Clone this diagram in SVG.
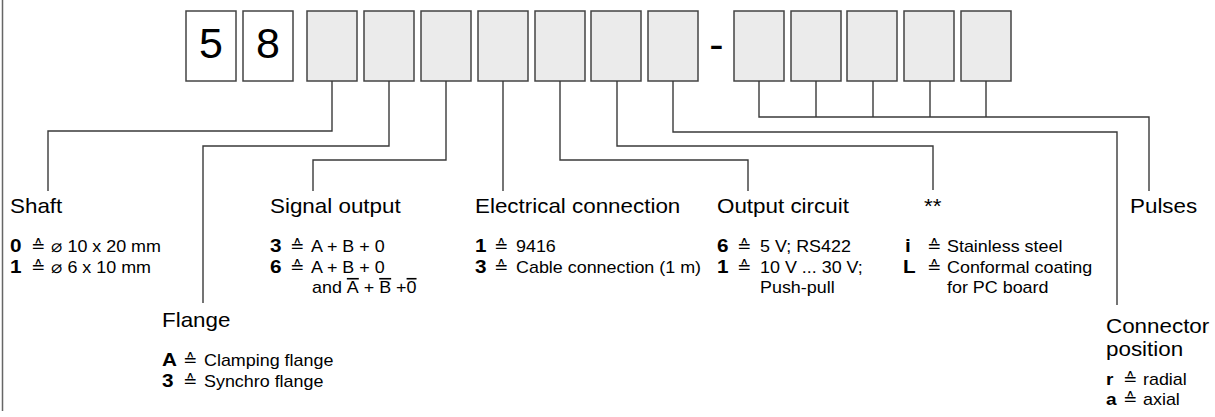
<svg xmlns="http://www.w3.org/2000/svg" width="1215" height="417" viewBox="0 0 1215 417">
<style>
.box{fill:#ebebeb;stroke:#444;stroke-width:1.5}
.wbox{fill:#fff;stroke:#444;stroke-width:1.5}
.big{font-family:"Liberation Sans",Arial,sans-serif;font-size:43px;fill:#000;text-anchor:middle}
.ln{fill:none;stroke:#3a3a3a;stroke-width:1.4}
.t{font-family:"Liberation Sans",Arial,sans-serif;font-size:20px;fill:#000}
.k{font-family:"Liberation Sans",Arial,sans-serif;font-size:18.5px;font-weight:bold;fill:#000}
.v{font-family:"Liberation Sans",Arial,sans-serif;font-size:16px;fill:#000}
.eq{font-family:"DejaVu Sans",sans-serif;font-size:17px;fill:#000}
.d{font-family:"DejaVu Sans",sans-serif;font-size:17px}
</style>
<line x1="2.5" y1="0" x2="2.5" y2="411" stroke="#666" stroke-width="1.5"/>
<g id="code">
<rect class="wbox" x="186" y="11" width="50" height="70"/>
<text class="big" x="211" y="58">5</text>
<rect class="wbox" x="243" y="11" width="50" height="70"/>
<text class="big" x="268" y="58">8</text>
<rect class="box" x="307" y="11" width="50" height="70"/>
<rect class="box" x="364" y="11" width="50" height="70"/>
<rect class="box" x="421" y="11" width="50" height="70"/>
<rect class="box" x="478" y="11" width="50" height="70"/>
<rect class="box" x="535" y="11" width="50" height="70"/>
<rect class="box" x="591" y="11" width="50" height="70"/>
<rect class="box" x="648" y="11" width="50" height="70"/>
<text class="big" x="716.5" y="59">-</text>
<rect class="box" x="734" y="11" width="50" height="70"/>
<rect class="box" x="791" y="11" width="50" height="70"/>
<rect class="box" x="847" y="11" width="50" height="70"/>
<rect class="box" x="904" y="11" width="50" height="70"/>
<rect class="box" x="961" y="11" width="50" height="70"/>
</g>
<g id="connectors">
<path class="ln" d="M332 81V131H48V191"/>
<path class="ln" d="M389 81V146H203V303"/>
<path class="ln" d="M446 81V160H313V191"/>
<path class="ln" d="M503 81V191"/>
<path class="ln" d="M560 81V160H748V191"/>
<path class="ln" d="M617 81V146H933V190"/>
<path class="ln" d="M673 81V132H1117V305"/>
<path class="ln" d="M759 81V117H1149V191M816 81V117M873 81V117M930 81V117M986 81V117"/>
</g>
<g id="shaft">
<text class="t" transform="translate(10 213) scale(1.12 1)">Shaft</text>
<text class="k" transform="translate(10 252) scale(1.12 1)">0</text>
<text class="eq" x="31" y="252">≙</text>
<text class="v" transform="translate(51 252) scale(1.12 1)"><tspan class="d">⌀</tspan> 10 x 20 mm</text>
<text class="k" transform="translate(10 273) scale(1.12 1)">1</text>
<text class="eq" x="31" y="273">≙</text>
<text class="v" transform="translate(51 273) scale(1.12 1)"><tspan class="d">⌀</tspan> 6 x 10 mm</text>
</g>
<g id="flange">
<text class="t" transform="translate(162 327) scale(1.12 1)">Flange</text>
<text class="k" transform="translate(162 366) scale(1.12 1)">A</text>
<text class="eq" x="183" y="366">≙</text>
<text class="v" transform="translate(204 366) scale(1.12 1)">Clamping flange</text>
<text class="k" transform="translate(162 387) scale(1.12 1)">3</text>
<text class="eq" x="183" y="387">≙</text>
<text class="v" transform="translate(204 387) scale(1.12 1)">Synchro flange</text>
</g>
<g id="signal">
<text class="t" transform="translate(270 213) scale(1.12 1)">Signal output</text>
<text class="k" transform="translate(270 252) scale(1.12 1)">3</text>
<text class="eq" x="290" y="252">≙</text>
<text class="v" transform="translate(311 252) scale(1.12 1)">A + B + 0</text>
<text class="k" transform="translate(270 273) scale(1.12 1)">6</text>
<text class="eq" x="290" y="273">≙</text>
<text class="v" transform="translate(311 273) scale(1.12 1)">A + B + 0</text>
<text class="v" transform="translate(312 293) scale(1.12 1)">and <tspan text-decoration="overline">A</tspan> + <tspan text-decoration="overline">B</tspan> +<tspan text-decoration="overline">0</tspan></text>
</g>
<g id="electrical">
<text class="t" transform="translate(475 213) scale(1.12 1)">Electrical  connection</text>
<text class="k" transform="translate(475 252) scale(1.12 1)">1</text>
<text class="eq" x="494" y="252">≙</text>
<text class="v" transform="translate(516 252) scale(1.12 1)">9416</text>
<text class="k" transform="translate(475 273) scale(1.12 1)">3</text>
<text class="eq" x="494" y="273">≙</text>
<text class="v" transform="translate(516 273) scale(1.12 1)">Cable connection (1 m)</text>
</g>
<g id="output">
<text class="t" transform="translate(717 213) scale(1.12 1)">Output circuit</text>
<text class="k" transform="translate(717 252) scale(1.12 1)">6</text>
<text class="eq" x="737" y="252">≙</text>
<text class="v" transform="translate(760 252) scale(1.12 1)">5 V; RS422</text>
<text class="k" transform="translate(717 273) scale(1.12 1)">1</text>
<text class="eq" x="737" y="273">≙</text>
<text class="v" transform="translate(760 273) scale(1.12 1)">10 V ... 30 V;</text>
<text class="v" transform="translate(760 293) scale(1.12 1)">Push-pull</text>
</g>
<g id="options">
<text class="t" transform="translate(924 213) scale(1.12 1)">**</text>
<text class="k" transform="translate(905 252) scale(1.12 1)">i</text>
<text class="eq" x="927" y="252">≙</text>
<text class="v" transform="translate(947 252) scale(1.12 1)">Stainless steel</text>
<text class="k" transform="translate(903 273) scale(1.12 1)">L</text>
<text class="eq" x="927" y="273">≙</text>
<text class="v" transform="translate(947 273) scale(1.12 1)">Conformal coating</text>
<text class="v" transform="translate(947 293) scale(1.12 1)">for PC board</text>
</g>
<g id="pulses">
<text class="t" transform="translate(1130 213) scale(1.12 1)">Pulses</text>
</g>
<g id="connector">
<text class="t" transform="translate(1106 333) scale(1.12 1)">Connector</text>
<text class="t" transform="translate(1106 356) scale(1.12 1)">position</text>
<text class="k" style="font-size:17px" transform="translate(1106 385) scale(1.12 1)">r</text>
<text class="eq" x="1123" y="385">≙</text>
<text class="v" transform="translate(1143 385) scale(1.12 1)">radial</text>
<text class="k" style="font-size:17px" transform="translate(1106 405) scale(1.12 1)">a</text>
<text class="eq" x="1123" y="405">≙</text>
<text class="v" transform="translate(1143 405) scale(1.12 1)">axial</text>
</g>
</svg>
